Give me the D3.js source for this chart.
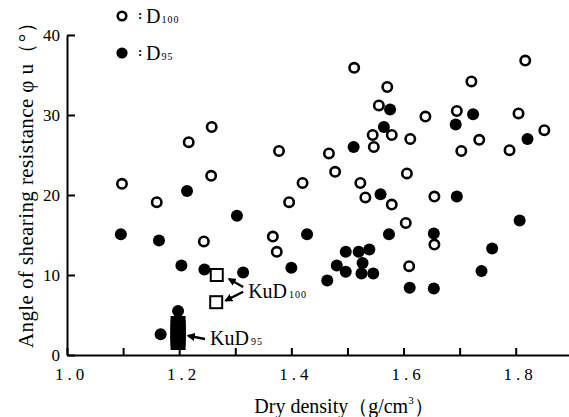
<!DOCTYPE html>
<html>
<head>
<meta charset="utf-8">
<script src="https://cdn.jsdelivr.net/npm/d3@7"></script>
<style>
  html, body { margin: 0; padding: 0; background: #fff; }
  svg { display: block; }
  .axis path, .axis line { stroke: #000; stroke-width: 2; }
  .axis text { font-family: "Liberation Serif", serif; fill: #000; }
</style>
</head>
<body>
<svg id="chart" width="569" height="417"></svg>
<script>
// D100 (open circles)
const d100Density = [1.258, 1.217, 1.378, 1.098, 1.257, 1.420, 1.160, 1.396, 1.244, 1.367, 1.374,
  1.512, 1.817, 1.721, 1.571, 1.556, 1.695, 1.805, 1.639, 1.851, 1.545, 1.579, 1.612, 1.735,
  1.547, 1.703, 1.789, 1.467, 1.478, 1.606, 1.523, 1.532, 1.655, 1.579, 1.604, 1.655, 1.610];
const d100Phi = [28.5, 26.6, 25.5, 21.4, 22.4, 21.5, 19.1, 19.1, 14.2, 14.8, 12.9,
  35.9, 36.8, 34.2, 33.5, 31.2, 30.5, 30.2, 29.8, 28.1, 27.5, 27.5, 27.0, 26.9,
  26.0, 25.5, 25.6, 25.2, 22.9, 22.7, 21.5, 19.7, 19.8, 18.8, 16.5, 13.8, 11.1];

// D95 (filled circles)
const d95Density = [1.214, 1.303, 1.096, 1.164, 1.428, 1.204, 1.245, 1.314, 1.167, 1.198, 1.400,
  1.576, 1.724, 1.693, 1.565, 1.821, 1.511, 1.559, 1.695, 1.807, 1.574, 1.654, 1.758,
  1.497, 1.520, 1.539, 1.481, 1.527, 1.497, 1.525, 1.546, 1.739, 1.464, 1.611, 1.654];
const d95Phi = [20.5, 17.4, 15.1, 14.3, 15.1, 11.2, 10.7, 10.3, 2.6, 5.5, 10.9,
  30.7, 30.1, 28.8, 28.5, 27.0, 26.0, 20.1, 19.8, 16.8, 15.1, 15.2, 13.3,
  12.9, 12.9, 13.2, 11.2, 11.5, 10.4, 10.2, 10.2, 10.5, 9.3, 8.4, 8.3];

// KuD samples (squares)
const kud100Density = [1.267, 1.266];
const kud100Phi = [10.0, 6.6];
const kud95Density = [1.198, 1.198, 1.198, 1.198, 1.198, 1.198];
const kud95Phi = [1.5, 2.0, 2.5, 3.0, 3.5, 4.0];

// axes
const xTickValues = [1.0, 1.1, 1.2, 1.3, 1.4, 1.5, 1.6, 1.7, 1.8];
const xTickLabels = ["1.0", "", "1.2", "", "1.4", "", "1.6", "", "1.8"];
const yTickValues = [0, 10, 20, 30, 40];

// annotations: arrow from label towards the squares (data units)
const annotations = [
  { from: [1.314, 8.5], to: [1.289, 9.5] },
  { from: [1.314, 7.9], to: [1.283, 6.8] },
  { from: [1.246, 2.0], to: [1.216, 2.4] }
];
const annotationLabels = [
  { pos: [1.323, 7.1], main: "KuD", sub: "100" },
  { pos: [1.255, 1.25], main: "KuD", sub: "95" }
];

const svg = d3.select("#chart");
const SERIF = "Liberation Serif, serif";

const x = d3.scaleLinear().domain([1.0, 1.895]).range([67, 569]);
const y = d3.scaleLinear().domain([0, 40]).range([355, 35]);

// x axis
const xAxis = svg.append("g")
  .attr("class", "axis")
  .attr("transform", `translate(0,${y(0)})`)
  .call(d3.axisBottom(x)
    .tickValues(xTickValues)
    .tickSizeInner(-7)
    .tickSizeOuter(0)
    .tickPadding(9)
    .tickFormat((d, i) => xTickLabels[i]));
xAxis.selectAll("text")
  .attr("font-size", 17)
  .attr("letter-spacing", 4)
  .attr("dx", 4)
  .attr("dy", "0.95em");

// y axis
const yAxis = svg.append("g")
  .attr("class", "axis")
  .attr("transform", `translate(${x(1.0)},0)`)
  .call(d3.axisLeft(y)
    .tickValues(yTickValues)
    .tickSizeInner(-8)
    .tickSizeOuter(0)
    .tickPadding(7));
yAxis.selectAll("text").attr("font-size", 17);

// axis titles
const xTitle = svg.append("text")
  .attr("x", 344)
  .attr("y", 413)
  .attr("text-anchor", "middle")
  .attr("font-family", SERIF)
  .attr("font-size", 20)
  .attr("fill", "#000");
xTitle.append("tspan").text("Dry density（g/cm");
xTitle.append("tspan").attr("font-size", 11).attr("dy", -9).text("3");
xTitle.append("tspan").attr("dy", 9).text("）");

const yTitle = svg.append("text")
  .attr("transform", "translate(33,180) rotate(-90)")
  .attr("text-anchor", "middle")
  .attr("font-family", SERIF)
  .attr("font-size", 21)
  .attr("letter-spacing", 0.4)
  .attr("fill", "#000");
yTitle.append("tspan").text("Angle of shearing resistance φ u（°）");

// D95 points
svg.append("g").selectAll("circle")
  .data(d95Density.map((d, i) => [d, d95Phi[i]]))
  .join("circle")
  .attr("cx", d => x(d[0]))
  .attr("cy", d => y(d[1]))
  .attr("r", 6)
  .attr("fill", "#000");

// D100 points
svg.append("g").selectAll("circle")
  .data(d100Density.map((d, i) => [d, d100Phi[i]]))
  .join("circle")
  .attr("cx", d => x(d[0]))
  .attr("cy", d => y(d[1]))
  .attr("r", 4.7)
  .attr("fill", "#fff")
  .attr("stroke", "#000")
  .attr("stroke-width", 2.6);

// KuD100 open squares
svg.append("g").selectAll("rect")
  .data(kud100Density.map((d, i) => [d, kud100Phi[i]]))
  .join("rect")
  .attr("x", d => x(d[0]) - 6)
  .attr("y", d => y(d[1]) - 6)
  .attr("width", 12)
  .attr("height", 12)
  .attr("fill", "#fff")
  .attr("stroke", "#000")
  .attr("stroke-width", 2);

// KuD95 filled squares (stacked)
svg.append("g").selectAll("rect")
  .data(kud95Density.map((d, i) => [d, kud95Phi[i]]))
  .join("rect")
  .attr("x", d => x(d[0]) - 7.5)
  .attr("y", d => y(d[1]) - 7)
  .attr("width", 15)
  .attr("height", 14)
  .attr("fill", "#000");

// arrows
svg.append("defs").append("marker")
  .attr("id", "arrow")
  .attr("viewBox", "0 0 10 10")
  .attr("refX", 8)
  .attr("refY", 5)
  .attr("markerWidth", 3.4)
  .attr("markerHeight", 3.4)
  .attr("orient", "auto")
  .append("path")
  .attr("d", "M0,0 L10,5 L0,10 Z")
  .attr("fill", "#000");

svg.append("g").selectAll("line")
  .data(annotations)
  .join("line")
  .attr("x1", d => x(d.from[0]))
  .attr("y1", d => y(d.from[1]))
  .attr("x2", d => x(d.to[0]))
  .attr("y2", d => y(d.to[1]))
  .attr("stroke", "#000")
  .attr("stroke-width", 2.4)
  .attr("marker-end", "url(#arrow)");

annotationLabels.forEach(a => {
  const t = svg.append("text")
    .attr("x", x(a.pos[0]))
    .attr("y", y(a.pos[1]))
    .attr("font-family", SERIF)
    .attr("font-size", 20)
    .attr("fill", "#000");
  t.append("tspan").text(a.main);
  t.append("tspan").attr("font-size", 10).attr("dx", 2).attr("letter-spacing", 1).text(a.sub);
});

// legend
const legendItems = [
  { filled: false, sub: "100", cy: 16 },
  { filled: true, sub: "95", cy: 53 }
];
legendItems.forEach(l => {
  svg.append("circle")
    .attr("cx", 122)
    .attr("cy", l.cy)
    .attr("r", l.filled ? 5.6 : 4.3)
    .attr("fill", l.filled ? "#000" : "#fff")
    .attr("stroke", l.filled ? "none" : "#000")
    .attr("stroke-width", 2.6);
  svg.append("text")
    .attr("x", 138)
    .attr("y", l.cy + 3)
    .attr("font-family", SERIF)
    .attr("font-size", 13)
    .attr("font-weight", "bold")
    .text(":");
  const t = svg.append("text")
    .attr("x", 146)
    .attr("y", l.cy + 7)
    .attr("font-family", SERIF)
    .attr("font-size", 20)
    .attr("fill", "#000");
  t.append("tspan").text("D");
  t.append("tspan").attr("font-size", 10).attr("dx", 1).attr("letter-spacing", 1).text(l.sub);
});
</script>
</body>
</html>
